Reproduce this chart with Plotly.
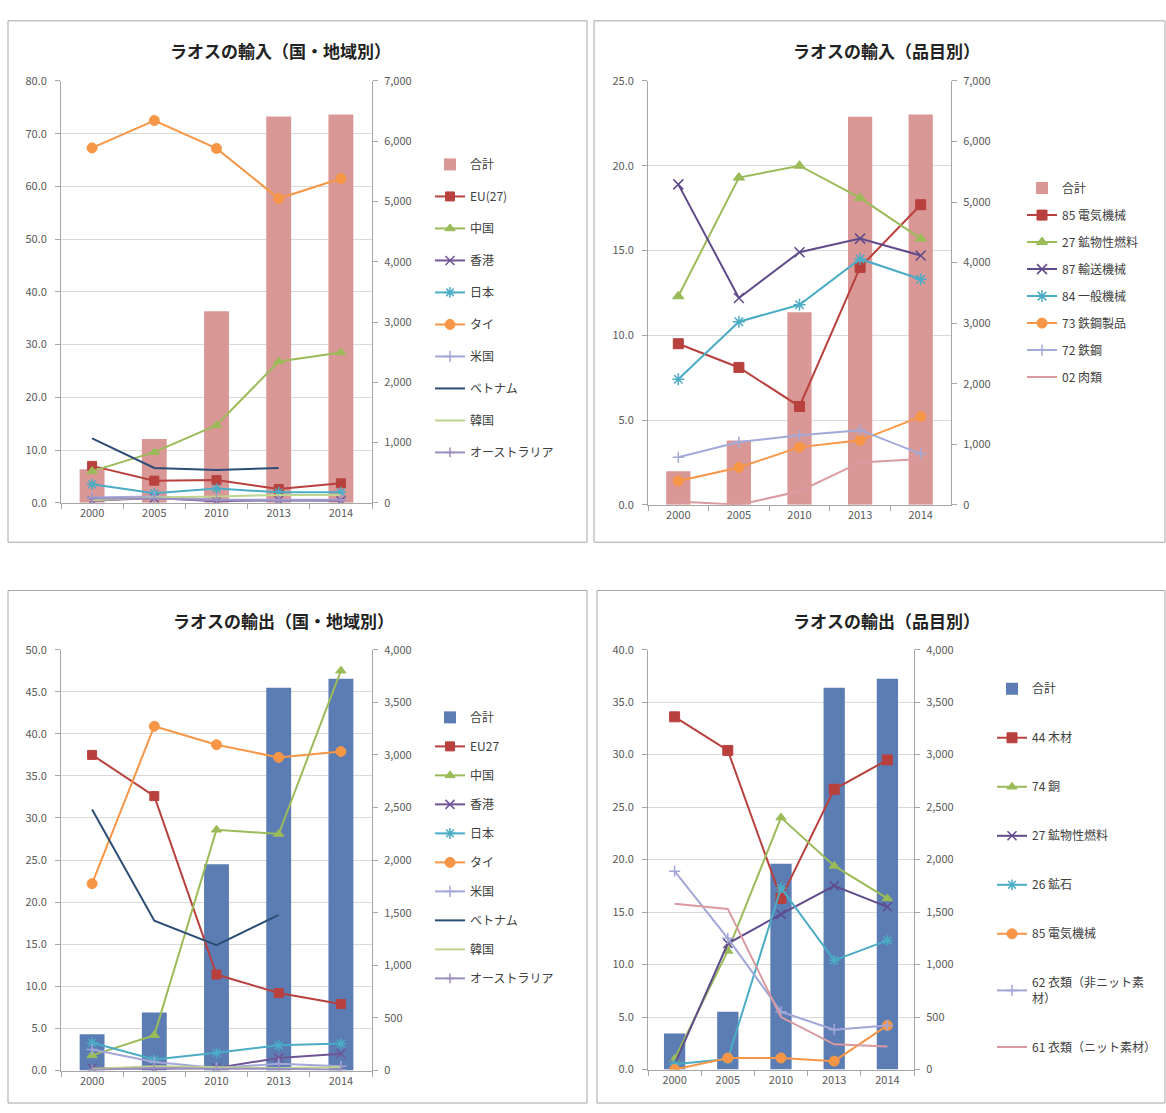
import plotly.graph_objects as go

W, H = 1166, 1113
FONT = "Noto Sans CJK JP"

years = ["2000", "2005", "2010", "2013", "2014"]

# ---- Panel 1: imports by country/region (share %, total on right axis) ----
imp_total = [555, 1060, 3180, 6410, 6445]
imp_cty_names = ["EU(27)", "中国", "香港", "日本", "タイ", "米国", "ベトナム", "韓国", "オーストラリア"]
imp_cty_values = [
    [7.0, 4.2, 4.3, 2.6, 3.7],      # EU(27)
    [6.0, 9.6, 14.7, 26.8, 28.5],   # 中国
    [0.4, 0.9, 0.3, 0.5, 0.4],      # 香港
    [3.5, 1.8, 2.7, 2.0, 2.0],      # 日本
    [67.3, 72.5, 67.2, 57.7, 61.5], # タイ
    [1.0, 1.2, 0.6, 0.6, 0.6],      # 米国
    [12.2, 6.6, 6.2, 6.6, None],    # ベトナム
    [0.5, 1.0, 1.2, 1.5, 1.5],      # 韓国
    [0.8, 0.8, 0.5, 0.4, 0.5],      # オーストラリア
]

# ---- Panel 2: imports by item ----
imp_item_names = ["85 電気機械", "27 鉱物性燃料", "87 輸送機械", "84 一般機械", "73 鉄鋼製品", "72 鉄鋼", "02 肉類"]
imp_item_values = [
    [9.5, 8.1, 5.8, 14.0, 17.7],
    [12.3, 19.3, 20.0, 18.1, 15.7],
    [18.9, 12.2, 14.9, 15.7, 14.7],
    [7.4, 10.8, 11.8, 14.5, 13.3],
    [1.4, 2.2, 3.4, 3.8, 5.2],
    [2.8, 3.7, 4.1, 4.4, 3.0],
    [0.2, 0.0, 0.8, 2.5, 2.7],
]

# ---- Panel 3: exports by country/region ----
exp_total = [344, 551, 1960, 3637, 3723]
exp_cty_names = ["EU27", "中国", "香港", "日本", "タイ", "米国", "ベトナム", "韓国", "オーストラリア"]
exp_cty_values = [
    [37.5, 32.6, 11.4, 9.2, 7.9],
    [1.8, 4.2, 28.6, 28.1, 47.5],
    [0.3, 0.2, 0.3, 1.5, 2.0],
    [3.3, 1.3, 2.1, 3.0, 3.2],
    [22.2, 40.9, 38.7, 37.2, 37.9],
    [2.5, 1.0, 0.3, 0.8, 0.5],
    [31.0, 17.8, 14.9, 18.5, None],
    [0.2, 0.5, 0.4, 0.3, 0.4],
    [0.1, 0.3, 0.2, 0.2, 0.1],
]

# ---- Panel 4: exports by item ----
exp_item_names = ["44 木材", "74 銅", "27 鉱物性燃料", "26 鉱石", "85 電気機械",
                  "62 衣類（非ニット素<br>材）", "61 衣類（ニット素材）"]
exp_item_values = [
    [33.6, 30.4, 16.3, 26.7, 29.5],
    [1.0, 11.3, 24.0, 19.4, 16.3],
    [0.5, 12.0, 14.8, 17.5, 15.5],
    [0.5, 1.0, 17.3, 10.4, 12.3],
    [0.0, 1.1, 1.1, 0.8, 4.2],
    [18.9, 12.5, 5.5, 3.8, 4.2],
    [15.8, 15.3, 5.0, 2.4, 2.2],
]

# styles: (color, marker symbol or None, marker size)
cty_styles = [
    ("#B8413E", "square", 9),
    ("#9BBB59", "triangle-up", 9),
    ("#6F5596", "x-thin-open", 9),
    ("#4BACC6", "asterisk-open", 9),
    ("#F79646", "circle", 10),
    ("#A3A7D8", "cross-thin-open", 8),
    ("#2C4D75", None, 0),
    ("#BFD48E", None, 0),
    ("#9C8FBF", "cross-thin-open", 7),
]
imp_item_styles = [
    ("#B8413E", "square", 10),
    ("#9BBB59", "triangle-up", 10),
    ("#5F4B8B", "x-thin-open", 10),
    ("#4BACC6", "asterisk-open", 10),
    ("#F79646", "circle", 10),
    ("#A3AAD8", "cross-thin-open", 8),
    ("#D99AA0", None, 0),
]
exp_item_styles = [
    ("#B8413E", "square", 10),
    ("#9BBB59", "triangle-up", 9),
    ("#5F4B8B", "x-thin-open", 9),
    ("#4BACC6", "asterisk-open", 9),
    ("#F79646", "circle", 10),
    ("#A3A7D8", "cross-thin-open", 8),
    ("#D99AA0", None, 0),
]

fig = go.Figure()

panels = [
    ("#D99795", imp_total, imp_cty_names, imp_cty_values, cty_styles, "legend"),
    ("#D99795", imp_total, imp_item_names, imp_item_values, imp_item_styles, "legend2"),
    ("#5B7DB4", exp_total, exp_cty_names, exp_cty_values, cty_styles, "legend3"),
    ("#5B7DB4", exp_total, exp_item_names, exp_item_values, exp_item_styles, "legend4"),
]

for i, (bcol, tot, names, vals, styles, lg) in enumerate(panels):
    xa = "x" if i == 0 else f"x{i+1}"
    yb = "y" if i == 0 else f"y{2*i+1}"
    yl = f"y{2*i+2}"
    fig.add_trace(go.Bar(x=years, y=tot, name="合計", marker=dict(color=bcol, line=dict(width=0)),
                         width=0.4, xaxis=xa, yaxis=yb, legend=lg, legendgroup=f"g{i}_0"))
    for j, (nm, v) in enumerate(zip(names, vals)):
        col, sym, sz = styles[j]
        kw = dict(x=years, y=v, name=nm, xaxis=xa, yaxis=yl, legend=lg,
                  legendgroup=f"g{i}_{j+1}", line=dict(color=col, width=2))
        if sym:
            kw["mode"] = "lines+markers"
            if sym.endswith("open"):
                kw["marker"] = dict(symbol=sym, size=sz, color=col, line=dict(color=col, width=1.5))
            else:
                kw["marker"] = dict(symbol=sym, size=sz, color=col, line=dict(color=col, width=1))
        else:
            kw["mode"] = "lines"
        fig.add_trace(go.Scatter(**kw))

def px_x(p):
    return p / W

def px_y(p):
    return 1 - p / H

boxes = [  # plot areas (left, top, right, bottom) in px
    (61, 73, 372, 501),
    (648, 73, 951, 503),
    (61, 650, 372, 1077),
    (648, 650, 914, 1076),
]
left_ranges = [(0, 80, 10), (0, 25, 5), (0, 50, 5), (0, 40, 5)]
right_ranges = [(0, 7000, 1000), (0, 7000, 1000), (0, 4000, 500), (0, 4000, 500)]

tickfont = dict(family=FONT, size=11, color="#595959")
axcol = "#A6A6A6"
layout = dict(
    width=W, height=H, margin=dict(l=0, r=0, t=0, b=0),
    paper_bgcolor="white", plot_bgcolor="white",
    font=dict(family=FONT, size=11, color="#404040"),
    barmode="overlay",
)
for i, (l, t, r, b) in enumerate(boxes):
    xk = "xaxis" if i == 0 else f"xaxis{i+1}"
    ybk = "yaxis" if i == 0 else f"yaxis{2*i+1}"
    ylk = f"yaxis{2*i+2}"
    xa = "x" if i == 0 else f"x{i+1}"
    yb = "y" if i == 0 else f"y{2*i+1}"
    dx = [px_x(l), px_x(r)]
    dy = [px_y(b), px_y(t)]
    layout[xk] = dict(domain=dx, anchor=yb, type="category", categoryorder="array",
                      categoryarray=years, showgrid=False, showline=True, linecolor=axcol,
                      ticks="outside", ticklen=5, tickcolor=axcol, tickson="boundaries",
                      tickfont=tickfont, zeroline=False, fixedrange=True)
    lo, hi, dt = right_ranges[i]
    layout[ybk] = dict(domain=dy, anchor=xa, side="right", range=[lo, hi], dtick=dt,
                       tickformat=",d", showgrid=False, zeroline=False, showline=True,
                       linecolor=axcol, ticks="outside", ticklen=5, tickcolor=axcol,
                       tickfont=tickfont, ticklabelstandoff=4)
    lo, hi, dt = left_ranges[i]
    layout[ylk] = dict(overlaying=yb, anchor=xa, side="left", range=[lo, hi], dtick=dt,
                       tickformat=".1f", showgrid=True, gridcolor="#D9D9D9", gridwidth=1,
                       zeroline=False, showline=True, linecolor=axcol, ticks="outside",
                       ticklen=5, tickcolor=axcol, tickfont=tickfont, ticklabelstandoff=6)

legend_common = dict(xanchor="left", yanchor="top", bgcolor="rgba(0,0,0,0)",
                     font=dict(family=FONT, size=12, color="#404040"),
                     traceorder="grouped", itemwidth=30)
layout["legend"] = dict(legend_common, x=px_x(430), y=px_y(143), tracegroupgap=13)
layout["legend2"] = dict(legend_common, x=px_x(1022), y=px_y(167), tracegroupgap=8)
layout["legend3"] = dict(legend_common, x=px_x(430), y=px_y(704), tracegroupgap=10)
layout["legend4"] = dict(legend_common, x=px_x(992), y=px_y(675), tracegroupgap=30)

fig.update_layout(**layout)

# panel borders
frames = [(8, 12, 587, 541), (594, 12, 1165, 541), (8, 590, 587, 1110), (597, 590, 1165, 1110)]
for (l, t, r, b) in frames:
    fig.add_shape(type="rect", xref="paper", yref="paper", x0=px_x(l), x1=px_x(r),
                  y0=px_y(b), y1=px_y(t), line=dict(color="#A6A6A6", width=1), layer="below")

titles = [("ラオスの輸入（国・地域別）", 280, 42), ("ラオスの輸入（品目別）", 886, 42),
          ("ラオスの輸出（国・地域別）", 283, 620), ("ラオスの輸出（品目別）", 886, 620)]
for txt, cx, cy in titles:
    fig.add_annotation(text=f"<b>{txt}</b>", x=px_x(cx), y=px_y(cy), xref="paper", yref="paper",
                       showarrow=False, font=dict(family=FONT, size=17, color="#222222"),
                       xanchor="center", yanchor="middle")

fig.write_html("out.html")
